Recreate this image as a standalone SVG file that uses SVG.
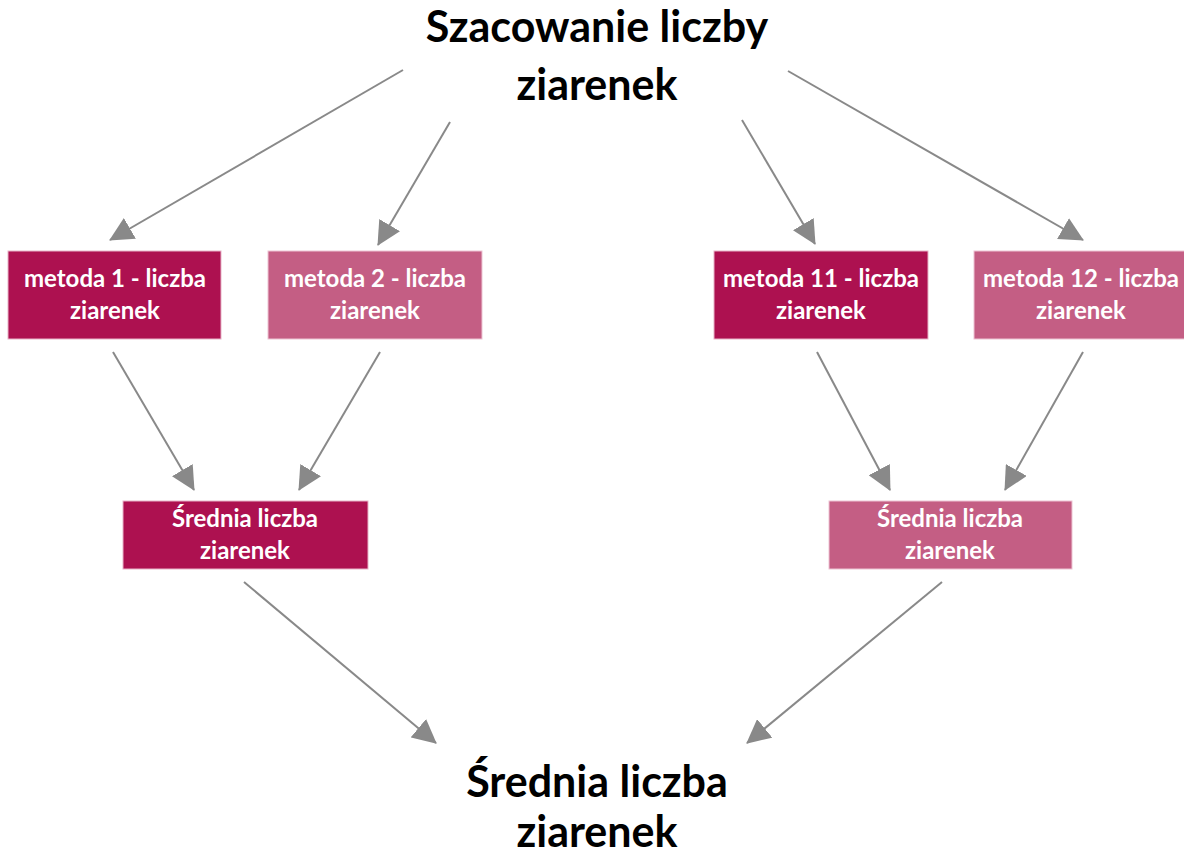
<svg xmlns="http://www.w3.org/2000/svg" width="1184" height="857" viewBox="0 0 1184 857">
<defs>
<style>
.dark{fill:#AD1150;stroke:#E7B3C7;stroke-width:1}
.light{fill:#C45E84;stroke:#EDC4D3;stroke-width:1}
.bt{font-family:Lato,"Open Sans",sans-serif;font-weight:bold;font-size:24px;fill:#fff;text-anchor:middle}
.tt{font-family:Lato,"Open Sans",sans-serif;font-weight:bold;font-size:43px;fill:#000;text-anchor:middle}
.cn line{stroke:#898989;stroke-width:2;marker-end:url(#ah)}
</style>
<marker id="ah" viewBox="0 0 24 24" refX="23" refY="12" markerWidth="24" markerHeight="24" markerUnits="userSpaceOnUse" orient="auto">
<path d="M0,0 L24,12 L0,24 Z" fill="#898989"/>
</marker>
</defs>
<rect width="1184" height="857" fill="#fff"/>
<g id="title">
<text class="tt" x="597" y="42">Szacowanie liczby</text>
<text class="tt" x="597" y="100">ziarenek</text>
</g>
<g id="m1"><rect class="dark" x="8" y="251" width="213" height="88"/>
<text class="bt" x="115" y="287">metoda 1 - liczba</text><text class="bt" x="115" y="319">ziarenek</text></g>
<g id="m2"><rect class="light" x="268" y="251" width="214" height="88"/>
<text class="bt" x="375" y="287">metoda 2 - liczba</text><text class="bt" x="375" y="319">ziarenek</text></g>
<g id="m11"><rect class="dark" x="714" y="251" width="214" height="88"/>
<text class="bt" x="821" y="287">metoda 11 - liczba</text><text class="bt" x="821" y="319">ziarenek</text></g>
<g id="m12"><rect class="light" x="974" y="251" width="214" height="88"/>
<text class="bt" x="1081" y="287">metoda 12 - liczba</text><text class="bt" x="1081" y="319">ziarenek</text></g>
<g id="s1"><rect class="dark" x="123" y="501" width="245" height="68"/>
<text class="bt" x="245" y="527">Średnia liczba</text><text class="bt" x="245" y="559">ziarenek</text></g>
<g id="s2"><rect class="light" x="829" y="501" width="243" height="68"/>
<text class="bt" x="950" y="527">Średnia liczba</text><text class="bt" x="950" y="559">ziarenek</text></g>
<g id="result">
<text class="tt" x="597" y="797">Średnia liczba</text>
<text class="tt" x="597" y="847">ziarenek</text>
</g>
<g id="connectors" class="cn">
<line x1="403" y1="70" x2="110" y2="240"/>
<line x1="450" y1="122" x2="378" y2="245"/>
<line x1="742" y1="120" x2="815" y2="244"/>
<line x1="788" y1="71" x2="1083" y2="240"/>
<line x1="113" y1="352" x2="194" y2="490"/>
<line x1="380" y1="352" x2="299" y2="490"/>
<line x1="817" y1="352" x2="890" y2="490"/>
<line x1="1083" y1="352" x2="1005" y2="490"/>
<line x1="244" y1="582" x2="436" y2="743"/>
<line x1="942" y1="582" x2="747" y2="743"/>
</g>
</svg>
